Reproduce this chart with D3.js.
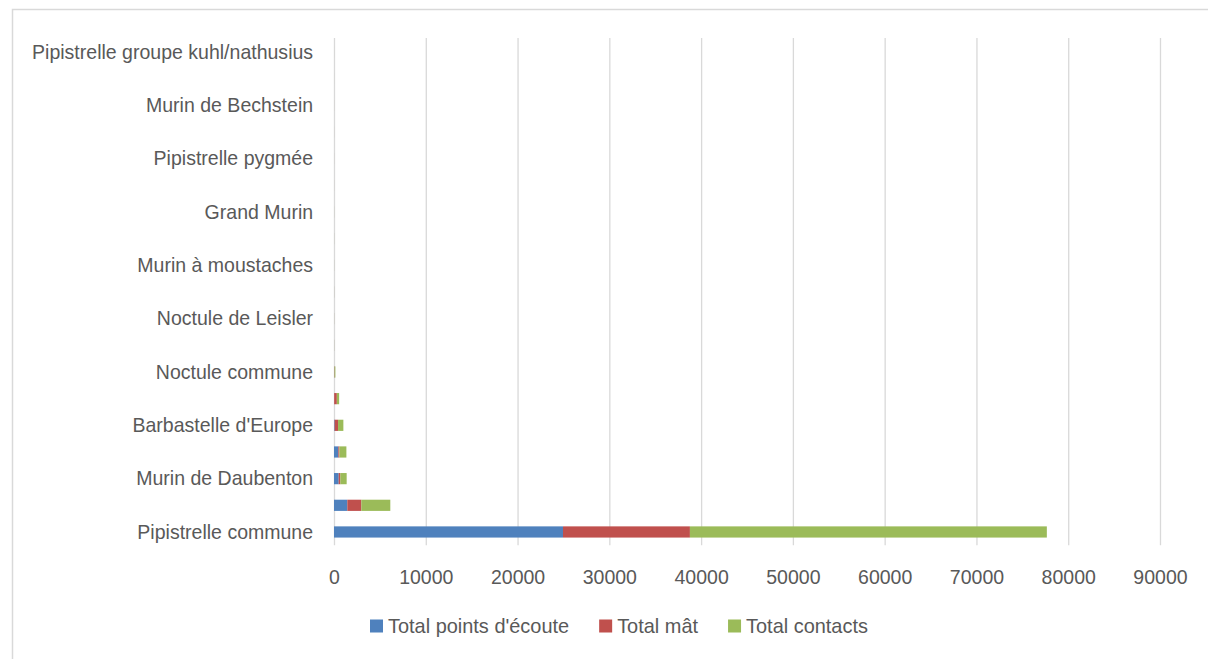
<!DOCTYPE html>
<html>
<head>
<meta charset="utf-8">
<script src="https://d3js.org/d3.v7.min.js"></script>
<style>
  body { margin: 0; background: #fff; }
  svg { display: block; }
  text { font-family: "Liberation Sans", Arial, sans-serif; fill: #595959; }
</style>
</head>
<body>
<script>
/* data, listed top to bottom as in the chart */
var categories = [
  "Pipistrelle groupe kuhl/nathusius", "Murin d'Alcathoe", "Murin de Bechstein",
  "Murin à oreilles échancrées", "Pipistrelle pygmée", "Petit Rhinolophe",
  "Grand Murin", "Grand Rhinolophe", "Murin à moustaches", "Oreillard gris",
  "Noctule de Leisler", "Oreillard roux", "Noctule commune", "Murin de Natterer",
  "Barbastelle d'Europe", "Sérotine commune", "Murin de Daubenton",
  "Pipistrelle de Kuhl", "Pipistrelle commune"
];
var shownLabels = [
  "Pipistrelle groupe kuhl/nathusius", "Murin de Bechstein", "Pipistrelle pygmée",
  "Grand Murin", "Murin à moustaches", "Noctule de Leisler", "Noctule commune",
  "Barbastelle d'Europe", "Murin de Daubenton", "Pipistrelle commune"
];
var totalPoints   = [0, 0, 1, 1, 1, 1, 1, 2, 2, 2, 3, 3, 20, 20, 70, 470, 510, 1450, 24950];
var totalMat      = [1, 1, 1, 1, 1, 1, 2, 2, 2, 3, 3, 4, 40, 290, 370, 120, 180, 1525, 13830];
var totalContacts = [1, 1, 2, 2, 2, 2, 3, 4, 4, 5, 6, 7, 90, 250, 580, 760, 690, 3160, 38890];
var xTicks = [0, 10000, 20000, 30000, 40000, 50000, 60000, 70000, 80000, 90000];
var seriesNames = ["Total points d'écoute", "Total mât", "Total contacts"];
var seriesColors = ["#4F81BD", "#C0504D", "#9BBB59"];

var W = 1208, H = 659;
var squeeze = 0.93;
var legendSqueeze = 0.95;
var fontsize = "21px";

var svg = d3.select("body").append("svg").attr("width", W).attr("height", H);

/* chart frame */
svg.append("rect")
  .attr("x", 12.5).attr("y", 9.5)
  .attr("width", W).attr("height", H)
  .attr("fill", "none").attr("stroke", "#d9d9d9").attr("stroke-width", 1.5);

var x = d3.scaleLinear().domain([0, 90000]).range([334, 1160]);
var y = d3.scaleBand().domain(categories).range([38.7, 545.3])
  .paddingInner(0.58).paddingOuter(0.29);

/* gridlines */
svg.append("g")
  .attr("transform", "translate(0,545.3)")
  .call(d3.axisBottom(x).tickValues(xTicks).tickSize(-(545.3 - 38)).tickFormat(""))
  .call(function(g) {
    g.select(".domain").remove();
    g.selectAll("line").attr("stroke", "#d9d9d9").attr("stroke-width", 1.3);
  });

/* stacked bars */
var rows = categories.map(function(c, i) {
  return { cat: c, v: [totalPoints[i], totalMat[i], totalContacts[i]] };
});
rows.forEach(function(r) {
  var acc = 0;
  r.segs = r.v.map(function(v, k) {
    var s = { x0: acc, x1: acc + v, k: k };
    acc += v;
    return s;
  });
});
var barG = svg.append("g");
rows.forEach(function(r) {
  barG.selectAll(null).data(r.segs).enter().append("rect")
    .attr("x", function(d) { return x(d.x0); })
    .attr("width", function(d) { return Math.max(0, x(d.x1) - x(d.x0)); })
    .attr("y", y(r.cat))
    .attr("height", y.bandwidth())
    .attr("fill", function(d) { return seriesColors[d.k]; });
});

/* y axis labels */
svg.append("g")
  .attr("transform", "translate(334,0)")
  .call(d3.axisLeft(y).tickValues(shownLabels).tickSize(0).tickPadding(22.5))
  .call(function(g) {
    g.select(".domain").remove();
    g.selectAll("text")
      .style("font-size", fontsize)
      .attr("fill", "#595959")
      .attr("transform", "scale(" + squeeze + ",1)");
  });

/* x axis labels */
svg.append("g")
  .attr("transform", "translate(0,545.3)")
  .call(d3.axisBottom(x).tickValues(xTicks).tickSize(0).tickPadding(24).tickFormat(d3.format("d")))
  .call(function(g) {
    g.select(".domain").remove();
    g.selectAll("text")
      .style("font-size", fontsize)
      .attr("fill", "#595959")
      .attr("transform", "scale(" + squeeze + ",1)");
  });

/* legend */
var legend = svg.append("g").attr("transform", "translate(370,626)");
var lx = 0;
seriesNames.forEach(function(name, k) {
  var item = legend.append("g").attr("transform", "translate(" + lx + ",0)");
  item.append("rect").attr("x", 0).attr("y", -6.5).attr("width", 13).attr("height", 13)
    .attr("fill", seriesColors[k]);
  var t = item.append("text").attr("x", 18 / legendSqueeze).attr("dy", "0.35em")
    .attr("transform", "scale(" + legendSqueeze + ",1)")
    .style("font-size", fontsize).text(name);
  lx += 18 + t.node().getComputedTextLength() * legendSqueeze + 30;
});
</script>
</body>
</html>
